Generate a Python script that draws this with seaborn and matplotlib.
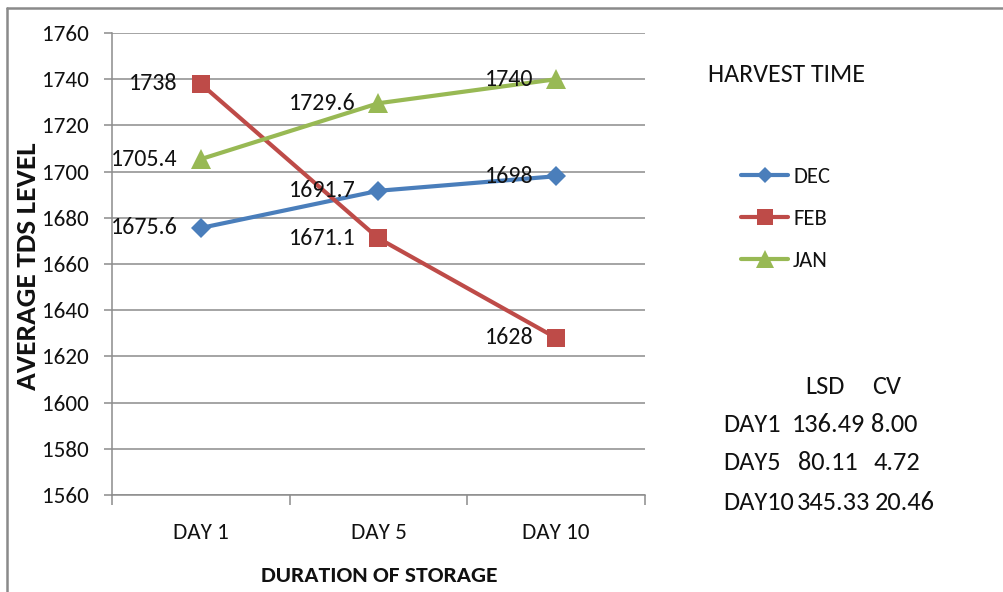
import matplotlib
matplotlib.use("Agg")
import matplotlib.pyplot as plt
from matplotlib.lines import Line2D
from matplotlib.ticker import FixedLocator, NullFormatter
import seaborn as sns
import pandas as pd

# Storage duration categories and harvest-time series
days = ["DAY 1", "DAY 5", "DAY 10"]
dec = [1675.6, 1691.7, 1698]
feb = [1738, 1671.1, 1628]
jan = [1705.4, 1729.6, 1740]
series_names = ["DEC", "FEB", "JAN"]

# Statistics table shown beside the chart
stat_header = ["LSD", "CV"]
stat_rows = ["DAY1", "DAY5", "DAY10"]
lsd = ["136.49", "80.11", "345.33"]
cv = ["8.00", "4.72", "20.46"]

y_ticks = list(range(1560, 1761, 20))

sns.set_style("white")
plt.rcParams["font.family"] = ["Carlito", "DejaVu Sans"]

W, H = 1004, 592
fig = plt.figure(figsize=(W / 100, H / 100), dpi=100)
fig.patch.set_facecolor("white")

def fx(px):
    return px / W

def fy(py):
    return 1 - py / H

TXT = "#111111"
ax = fig.add_axes([fx(112), fy(495), fx(645) - fx(112), fy(33) - fy(495)])

df = pd.DataFrame({
    "day": days * 3,
    "tds": dec + feb + jan,
    "month": [n for n in series_names for _ in days],
})

colors = {"DEC": "#4A7EBB", "FEB": "#BE4B48", "JAN": "#98B954"}
markers = {"DEC": "D", "FEB": "s", "JAN": "^"}
msizes = {"DEC": 9.8, "FEB": 13.5, "JAN": 14.5}

for name in series_names:
    sub = df[df["month"] == name]
    sns.lineplot(data=sub, x="day", y="tds", ax=ax, color=colors[name],
                 marker=markers[name], markersize=msizes[name],
                 markeredgewidth=0, linewidth=3.0, sort=False, legend=False)

# value labels to the left of each point
for name in series_names:
    sub = df[df["month"] == name]
    for i, v in enumerate(sub["tds"]):
        ax.annotate(f"{v:g}", xy=(i, v), xytext=(-16.5, 0), textcoords="offset points",
                    ha="right", va="center", fontsize=17.2, color=TXT)

ax.set_xlim(-0.5, 2.5)
ax.set_ylim(1560, 1760)
ax.set_yticks(y_ticks)
ax.set_xticks(range(len(days)))
ax.set_xticklabels(days)
ax.xaxis.set_minor_locator(FixedLocator([-0.5, 0.5, 1.5, 2.5]))
ax.xaxis.set_minor_formatter(NullFormatter())

ax.grid(axis="y", color="#8C8C8C", linewidth=1.1)
ax.grid(axis="x", visible=False)
for s in ["top", "right"]:
    ax.spines[s].set_visible(False)
for s in ["left", "bottom"]:
    ax.spines[s].set_color("#8C8C8C")
    ax.spines[s].set_linewidth(1.1)

ax.tick_params(axis="y", which="major", length=6, width=1.1, color="#8C8C8C",
               pad=11, labelsize=16.7, labelcolor=TXT, left=True)
ax.tick_params(axis="x", which="major", length=0, pad=20, labelsize=16.7,
               labelcolor=TXT)
ax.tick_params(axis="x", which="minor", length=7, width=1.1, color="#8C8C8C",
               bottom=True)

ax.set_xlabel("")
ax.set_ylabel("")
fig.text(fx(379), fy(576), "DURATION OF STORAGE", ha="center", va="center",
         fontsize=16.9, fontweight="bold", color=TXT)
fig.text(fx(28), fy(266), "AVERAGE TDS LEVEL", ha="center", va="center",
         rotation=90, fontsize=21.2, fontweight="bold", color=TXT)

# legend
handles = [Line2D([], [], color=colors[n], marker=markers[n],
                  markersize=msizes[n] * 0.85, markeredgewidth=0, linewidth=3.0)
           for n in series_names]
leg = fig.legend(handles, series_names, loc="upper left",
                 bbox_to_anchor=(fx(741), fy(167)), frameon=False,
                 fontsize=16.3, handlelength=2.08, handletextpad=0.22,
                 labelspacing=0.98, borderpad=0, borderaxespad=0)
for t in leg.get_texts():
    t.set_color(TXT)
fig.text(fx(708), fy(75), "HARVEST TIME", ha="left", va="center",
         fontsize=18.7, color=TXT)

# statistics table
TS = 19
fig.text(fx(805), fy(387), stat_header[0], ha="left", va="center", fontsize=TS, color=TXT)
fig.text(fx(872), fy(387), stat_header[1], ha="left", va="center", fontsize=TS, color=TXT)
row_y = [425, 463, 502]
lsd_x = [792, 798, 797]
cv_x = [871, 874, 875]
for r, yv in enumerate(row_y):
    fig.text(fx(723), fy(yv), stat_rows[r], ha="left", va="center", fontsize=TS, color=TXT)
    fig.text(fx(lsd_x[r]), fy(yv), lsd[r], ha="left", va="center", fontsize=TS, color=TXT)
    fig.text(fx(cv_x[r]), fy(yv), cv[r], ha="left", va="center", fontsize=TS, color=TXT)

# outer chart border (top and left edges)
fig.add_artist(Line2D([fx(7), fx(W)], [fy(8), fy(8)], color="#8A8A8A", linewidth=1.8))
fig.add_artist(Line2D([fx(7), fx(7)], [fy(8), fy(H)], color="#8A8A8A", linewidth=1.8))

fig.savefig("out.png", dpi=100, facecolor="white")
